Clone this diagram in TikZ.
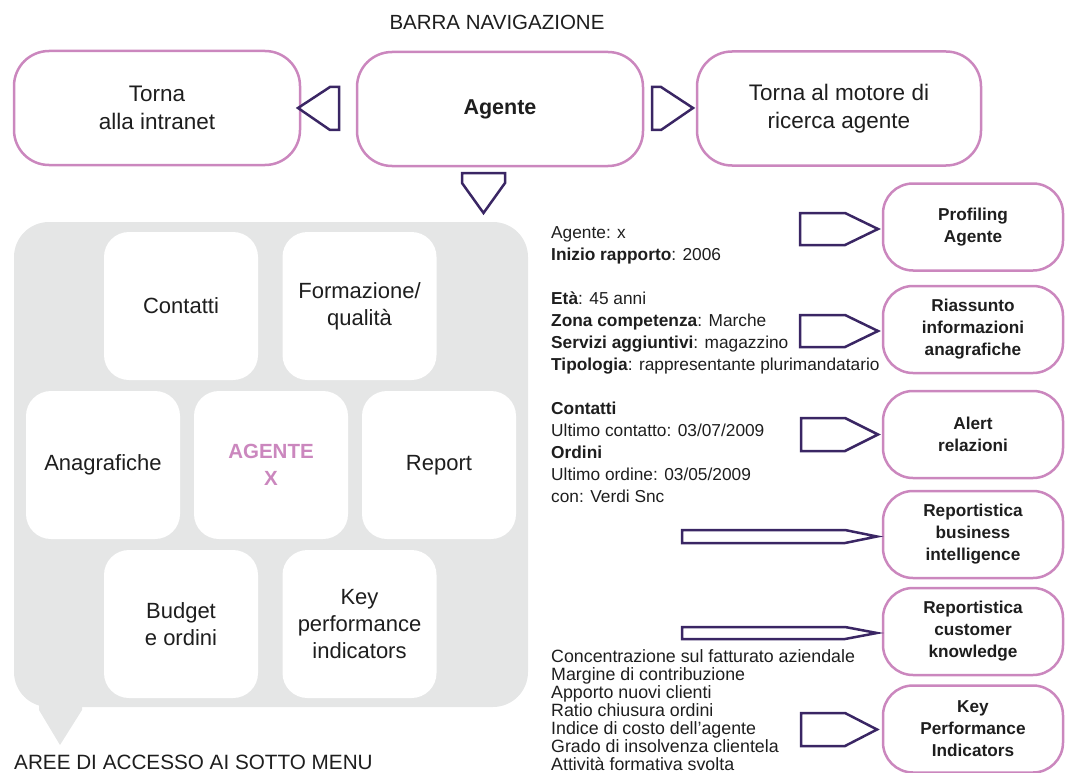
\documentclass[tikz,border=0pt]{standalone}
\usepackage{fontspec}
\setmainfont{Liberation Sans}
\usetikzlibrary{positioning}
\definecolor{boxpink}{RGB}{203,135,190}
\definecolor{arrowpurple}{RGB}{58,38,100}
\definecolor{panelgray}{RGB}{229,230,230}
\definecolor{txt}{RGB}{30,30,30}
\tikzset{
  navbox/.style={draw=boxpink, line width=2.5pt, rounded corners=35pt,
    minimum width=286pt, minimum height=114pt, align=center,
    font=\fontsize{22.5}{28}\selectfont, text=txt},
  funcbox/.style={draw=boxpink, line width=2.5pt, rounded corners=30pt,
    minimum width=180pt, minimum height=87pt, align=center,
    font=\bfseries\fontsize{17.2}{22}\selectfont, text=txt},
  tile/.style={fill=white, rounded corners=25pt, minimum width=154pt,
    minimum height=148pt, align=center, font=\fontsize{22}{27}\selectfont, text=txt},
  infotext/.style={anchor=north west, inner sep=0pt, align=left,
    font=\fontsize{17.3}{22}\selectfont, text=txt},
  navarrow/.style={draw=arrowpurple, line width=2.5pt, line join=miter},
}
\begin{document}
\begin{tikzpicture}[x=1pt,y=-1pt]
\useasboundingbox (0,0) rectangle (1065,773);

% barra di navigazione
\node (barra) at (497,22) [font=\fontsize{20.5}{24}\selectfont, text=txt] {BARRA NAVIGAZIONE};
\node (intranet) at (157,108) [navbox] {Torna\\alla intranet};
\node (agente) at (500,109) [navbox, font=\bfseries\fontsize{21.5}{28}\selectfont] {Agente};
\node (motore) at (839,108.5) [navbox, minimum width=284pt] {Torna al motore di\\ricerca agente};
\draw [navarrow] (298,108) -- (330,87) -- (339,87) -- (339,130) -- (330,130) -- cycle;
\draw [navarrow] (693,108) -- (661,87) -- (652,87) -- (652,130) -- (661,130) -- cycle;
\draw [navarrow] (462,173) -- (505,173) -- (505,183) -- (483.5,213) -- (462,183) -- cycle;

% aree di accesso
\fill [panelgray, rounded corners=35pt] (14,222) rectangle (528,707);
\fill [panelgray] (39,695) -- (39,710) -- (60,745) -- (82,710) -- (82,695) -- cycle;
\node (contatti) at (181,306) [tile] {Contatti};
\node (formazione) at (359.5,306) [tile] {Formazione/\\qualità};
\node (agx) at (271,465) [tile, text=boxpink, font=\bfseries\fontsize{20.5}{27}\selectfont] {AGENTE\\X};
\node (anagr) at (103,465) [tile] {Anagrafiche};
\node (report) at (439,465) [tile] {Report};
\node (budget) at (181,624) [tile] {Budget\\e ordini};
\node (kpitile) at (359.5,624) [tile] {Key\\performance\\indicators};
\node (aree) at (14,762) [anchor=west, inner sep=0pt, font=\fontsize{20.7}{24}\selectfont, text=txt] {AREE DI ACCESSO AI SOTTO MENU};

% informazioni agente
\node (info1) at (551,226.5) [infotext] {Agente: x\\\textbf{Inizio rapporto}: 2006};
\node (info2) at (551,291.5) [infotext] {\textbf{Età}: 45 anni\\\textbf{Zona competenza}: Marche\\\textbf{Servizi aggiuntivi}: magazzino\\\textbf{Tipologia}: rappresentante plurimandatario};
\node (info3) at (551,401.5) [infotext] {\textbf{Contatti}\\Ultimo contatto: 03/07/2009\\\textbf{Ordini}\\Ultimo ordine: 03/05/2009\\con: Verdi Snc};
\node (info4) at (551,649.5) [infotext, font=\fontsize{17.8}{18}\selectfont] {Concentrazione sul fatturato aziendale\\Margine di contribuzione\\Apporto nuovi clienti\\Ratio chiusura ordini\\Indice di costo dell’agente\\Grado di insolvenza clientela\\Attività formativa svolta};

% funzioni
\node (prof) at (973,227) [funcbox] {Profiling\\Agente};
\node (riass) at (973,329.5) [funcbox] {Riassunto\\informazioni\\anagrafiche};
\node (alert) at (973,434.5) [funcbox] {Alert\\relazioni};
\node (repbi) at (973,534.5) [funcbox] {Reportistica\\business\\intelligence};
\node (repck) at (973,631.5) [funcbox] {Reportistica\\customer\\knowledge};
\node (kpi) at (973,729) [funcbox] {Key\\Performance\\Indicators};
\draw [navarrow] (800,213) -- (845,213) -- (878,229) -- (845,245) -- (800,245) -- cycle;
\draw [navarrow] (800,315) -- (845,315) -- (878,331) -- (845,347) -- (800,347) -- cycle;
\draw [navarrow] (801,418) -- (845,418) -- (878,434.5) -- (845,451) -- (801,451) -- cycle;
\draw [navarrow] (682,530) -- (845,530) -- (877,536.5) -- (845,543) -- (682,543) -- cycle;
\draw [navarrow] (682,627) -- (845,627) -- (877,633) -- (845,639) -- (682,639) -- cycle;
\draw [navarrow] (801,713) -- (845,713) -- (877,729.5) -- (845,746) -- (801,746) -- cycle;
\end{tikzpicture}
\end{document}
